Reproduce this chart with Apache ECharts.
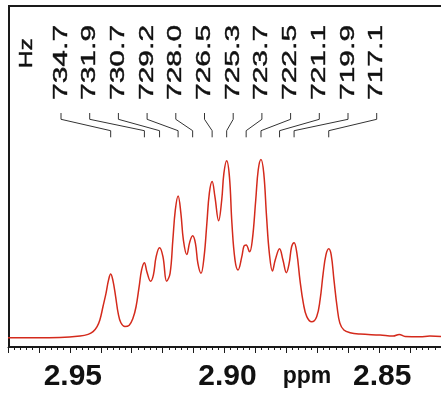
<!DOCTYPE html>
<html>
<head>
<meta charset="utf-8">
<script src="https://cdn.jsdelivr.net/npm/echarts@6/dist/echarts.min.js"></script>
<style>
  html, body { margin: 0; padding: 0; background: #fff; }
  #chart { width: 441px; height: 393px; }
</style>
</head>
<body>
<div id="chart"></div>
<script>
// peak labels (Hz) and where each multiplet line sits (ppm)
const hzLabels = ['734.7', '731.9', '730.7', '729.2', '728.0', '726.5', '725.3', '723.7', '722.5', '721.1', '719.9', '717.1']
const peakPpm = [2.9368, 2.9259, 2.9210, 2.9150, 2.9103, 2.9040, 2.8993, 2.8930, 2.8882, 2.8822, 2.8775, 2.8663]
const tickLabels = ['2.95', '2.90', '2.85']

// traced spectrum
const shift = [
  2.9700, 2.9532, 2.9467, 2.9441, 2.9425, 2.9412, 2.9403, 2.9393, 2.9383, 2.9375,
  2.9368, 2.9361, 2.9352, 2.9344, 2.9335, 2.9322, 2.9308, 2.9296, 2.9286, 2.9276,
  2.9268, 2.9259, 2.9251, 2.9239, 2.9230, 2.9221, 2.9210, 2.9199, 2.9187, 2.9176,
  2.9167, 2.9159, 2.9150, 2.9141, 2.9133, 2.9122, 2.9112, 2.9103, 2.9094, 2.9086,
  2.9076, 2.9066, 2.9057, 2.9049, 2.9040, 2.9031, 2.9019, 2.9009, 2.9002, 2.8993,
  2.8984, 2.8976, 2.8966, 2.8956, 2.8944, 2.8937, 2.8930, 2.8919, 2.8910, 2.8899,
  2.8891, 2.8882, 2.8873, 2.8864, 2.8855, 2.8845, 2.8836, 2.8822, 2.8811, 2.8800,
  2.8791, 2.8783, 2.8775, 2.8766, 2.8756, 2.8745, 2.8734, 2.8718, 2.8702, 2.8691,
  2.8681, 2.8672, 2.8663, 2.8655, 2.8646, 2.8636, 2.8627, 2.8614, 2.8594, 2.8562,
  2.8497, 2.8455, 2.8435, 2.8416, 2.8368, 2.8336, 2.8300
]
const intensity = [
  2.7, 2.8, 3.2, 3.7, 4.5, 6.0, 7.9, 11.8, 15.8, 19.6,
  21.4, 19.6, 14.8, 10.0, 7.1, 6.0, 6.4, 8.4, 11.8, 17.7,
  22.6, 24.7, 22.1, 19.3, 21.1, 26.5, 29.1, 26.5, 19.3, 21.6,
  31.4, 40.2, 44.3, 39.2, 31.4, 27.1, 30.9, 32.6, 30.4, 24.5,
  21.6, 26.5, 36.3, 45.1, 48.5, 44.1, 37.0, 43.1, 50.9, 54.6,
  49.9, 36.3, 25.5, 22.6, 26.5, 29.6, 29.9, 27.9, 31.4, 43.1,
  51.9, 55.0, 50.9, 38.2, 27.5, 22.3, 25.5, 28.8, 25.5, 21.8,
  24.5, 29.4, 30.6, 27.5, 19.6, 12.8, 8.9, 7.4, 8.9, 13.8,
  21.6, 27.0, 28.8, 27.0, 19.6, 11.8, 7.0, 5.0, 4.2, 3.8,
  3.5, 3.2, 3.7, 3.1, 3.0, 3.2, 3.1
]

const firstLabelX = 61
const labelStep = 28.7

const chart = echarts.init(document.getElementById('chart'))

// grid runs down to the ppm axis (y=356); intensity 0 sits on the frame bottom (y=347)
chart.setOption({
  animation: false,
  grid: { left: 8, right: 0, top: 6, bottom: 37, outerBoundsMode: 'none' },
  xAxis: {
    type: 'value',
    inverse: true,
    min: 2.83,
    max: 2.97,
    interval: 0.01,
    splitLine: { show: false },
    axisLine: { lineStyle: { color: '#1a1a1a', width: 1.2 } },
    axisTick: { length: 6, lineStyle: { color: '#1a1a1a', width: 1 } },
    minorTick: { show: true, splitNumber: 5, length: 3, lineStyle: { color: '#1a1a1a', width: 1 } },
    axisLabel: {
      margin: 6,
      fontSize: 30,
      fontWeight: 'bold',
      fontFamily: 'Arial',
      color: '#111',
      padding: [0, 0, 0, 6],
      formatter: v => {
        const s = v.toFixed(2)
        return tickLabels.includes(s) ? s : ''
      }
    }
  },
  yAxis: { type: 'value', min: -2.64, max: 100, show: false },
  graphic: [
    {
      type: 'polyline',
      shape: { points: [[450, 6], [9, 6], [9, 347], [450, 347]] },
      style: { stroke: '#1a1a1a', lineWidth: 2, fill: null },
      silent: true
    },
    {
      type: 'text', x: 307, y: 377,
      style: { text: 'ppm', font: 'bold 23px Arial', fill: '#111', textAlign: 'center', textVerticalAlign: 'middle' }
    }
  ],
  series: [
    {
      type: 'line',
      data: shift.map((s, i) => [s, intensity[i]]),
      showSymbol: false,
      smooth: 0.4,
      lineStyle: { color: '#d42a1c', width: 1.5 }
    },
    {
      // Hz labels (stretched along the reading direction) + leader lines to each peak
      type: 'custom',
      clip: false,
      silent: true,
      data: peakPpm.map((p, i) => [p, i]),
      renderItem(params, api) {
        const i = api.value(1)
        const px = api.coord([api.value(0), 0])[0]
        const lx = firstLabelX + i * labelStep
        const children = [
          {
            type: 'polyline',
            shape: { points: [[lx, 113], [lx, 119.3], [px, 130.7], [px, 137.3]] },
            style: { stroke: '#333', lineWidth: 1, fill: null }
          },
          {
            type: 'text', x: lx, y: 100, rotation: Math.PI / 2, scaleX: 1.5, scaleY: 1,
            style: {
              text: hzLabels[i], font: '20px Arial', fill: '#111', stroke: '#111', lineWidth: 0.4,
              align: 'left', verticalAlign: 'middle', textAlign: 'left', textVerticalAlign: 'middle'
            }
          }
        ]
        if (i === 0) {
          children.push({
            type: 'text', x: 26.5, y: 68.3, rotation: Math.PI / 2, scaleX: 1.3, scaleY: 1,
            style: {
              text: 'Hz', font: '19px Arial', fill: '#111', stroke: '#111', lineWidth: 0.4,
              align: 'left', verticalAlign: 'middle', textAlign: 'left', textVerticalAlign: 'middle'
            }
          })
        }
        return { type: 'group', children }
      }
    }
  ]
})
</script>
</body>
</html>
